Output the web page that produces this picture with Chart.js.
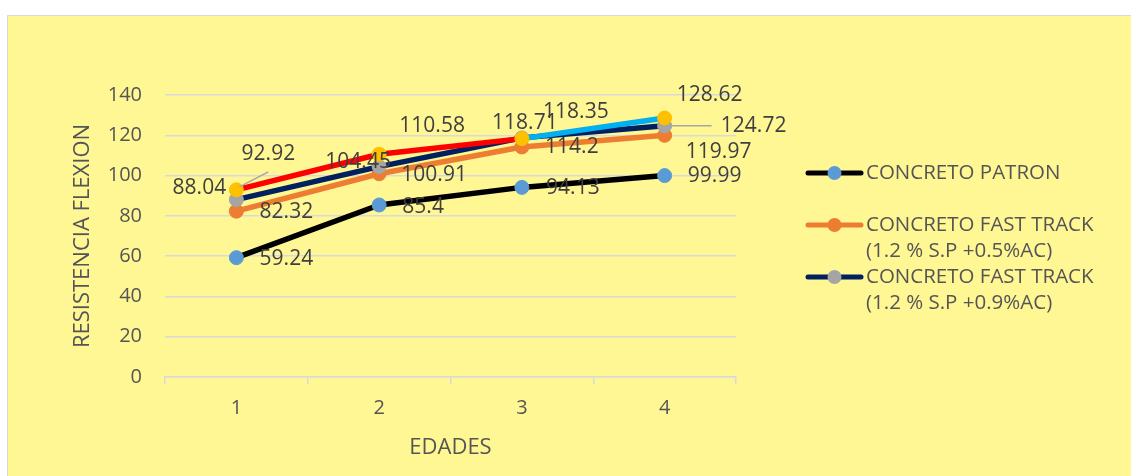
<!DOCTYPE html>
<html lang="es">
<head>
<meta charset="utf-8">
<title>Resistencia a flexión por edades</title>
<script src="https://cdn.jsdelivr.net/npm/chart.js@4.4.1/dist/chart.umd.min.js"></script>
<style>
  html, body { margin: 0; padding: 0; background: #ffffff; }
  #contenedor { width: 1131px; height: 476px; }
</style>
</head>
<body>
<div id="contenedor"><canvas id="graficoFlexion" width="1131" height="476"></canvas></div>
<script>
// ==============================================================
// 1. DATOS DEL GRÁFICO
// ==============================================================
const edades = ['1', '2', '3', '4'];
const concretoPatron = [59.24, 85.4, 94.13, 99.99];
const fastTrack05 = [82.32, 100.91, 114.2, 119.97];
const fastTrack09 = [88.04, 104.45, 118.71, 124.72];
const serieSinLeyenda = [92.92, 110.58, 118.35, 128.62];
const ticksResistencia = [0, 20, 40, 60, 80, 100, 120, 140];

const nombrePatron = ['CONCRETO PATRON'];
const nombreFT05 = ['CONCRETO FAST TRACK', '(1.2 % S.P +0.5%AC)'];
const nombreFT09 = ['CONCRETO FAST TRACK', '(1.2 % S.P +0.9%AC)'];

// Donde va cada etiqueta respecto a su punto (dx, dy en px), por serie
const desplazamientoEtiquetas = [
  [[50, 1], [44, 2], [51, 1], [50, 0]],
  [[50, 1], [55, 1], [50, 0], [54, 17]],
  [[-37, -12], [-21, -5], [3, -15], [89, 0]],
  [[32, -36], [53, -28], [54, -27], [45, -23]]
];
// Líneas guía grises de algunas etiquetas: [serie, punto, desde, hasta]
const lineasGuia = [
  [3, 0, [3, -3], [32, -18]],
  [2, 3, [7, 0], [47, 0]]
];

const GRIS_TEXTO = '#555555';
const GRIS_ETIQUETA = '#3F3F3F';
const GRIS_REJILLA = '#D9D9D9';

Chart.defaults.font.family = '"Open Sans", "DejaVu Sans", sans-serif';

// ==============================================================
// 2. PLUGINS: FONDO, ETIQUETAS Y LEYENDA
// ==============================================================
const pluginFondo = {
  id: 'fondo',
  beforeDraw(chart) {
    const ctx = chart.ctx;
    ctx.save();
    ctx.fillStyle = '#ffffff';
    ctx.fillRect(0, 0, chart.width, chart.height);
    ctx.fillStyle = '#FFF694';
    ctx.fillRect(7, 15, chart.width - 7, chart.height - 15);
    ctx.strokeStyle = GRIS_REJILLA;
    ctx.lineWidth = 1;
    ctx.beginPath();
    ctx.moveTo(7.5, chart.height);
    ctx.lineTo(7.5, 15.5);
    ctx.lineTo(chart.width, 15.5);
    ctx.stroke();
    ctx.restore();
  }
};

const pluginEtiquetas = {
  id: 'etiquetas',
  afterDatasetsDraw(chart) {
    const ctx = chart.ctx;
    ctx.save();
    // primero las líneas guía
    ctx.strokeStyle = '#A6A6A6';
    ctx.lineWidth = 1.5;
    lineasGuia.forEach(([s, i, desde, hasta]) => {
      const p = chart.getDatasetMeta(s).data[i];
      ctx.beginPath();
      ctx.moveTo(p.x + desde[0], p.y + desde[1]);
      ctx.lineTo(p.x + hasta[0], p.y + hasta[1]);
      ctx.stroke();
    });
    ctx.font = '21px "Open Sans", sans-serif';
    ctx.fillStyle = GRIS_ETIQUETA;
    ctx.textAlign = 'center';
    ctx.textBaseline = 'middle';
    chart.data.datasets.forEach((ds, s) => {
      chart.getDatasetMeta(s).data.forEach((p, i) => {
        const [dx, dy] = desplazamientoEtiquetas[s][i];
        ctx.fillText(String(ds.data[i]), p.x + dx, p.y + dy);
      });
    });
    ctx.restore();
  }
};

const pluginLeyenda = {
  id: 'leyendaPropia',
  afterDraw(chart) {
    const ctx = chart.ctx;
    const filasY = [173, 225, 277];
    ctx.save();
    ctx.font = '20.5px "Open Sans", sans-serif';
    ctx.textAlign = 'left';
    ctx.textBaseline = 'middle';
    chart.data.datasets.filter(ds => !ds.sinLeyenda).forEach((ds, k) => {
      const y = filasY[k];
      ctx.strokeStyle = ds.borderColor;
      ctx.lineWidth = 5;
      ctx.lineCap = 'round';
      ctx.beginPath();
      ctx.moveTo(808, y);
      ctx.lineTo(861, y);
      ctx.stroke();
      ctx.fillStyle = ds.pointBackgroundColor;
      ctx.beginPath();
      ctx.arc(834.5, y, 7, 0, Math.PI * 2);
      ctx.fill();
      ctx.fillStyle = GRIS_TEXTO;
      ds.nombre.forEach((linea, j) => ctx.fillText(linea, 866, y + j * 26.5));
    });
    ctx.restore();
  }
};

// ==============================================================
// 3. GRÁFICO
// ==============================================================
function serie(nombre, datos, linea, marcador, orden) {
  return {
    label: nombre.join(' '),
    nombre: nombre,
    data: datos,
    borderColor: linea,
    backgroundColor: marcador,
    pointBackgroundColor: marcador,
    pointBorderColor: marcador,
    pointBorderWidth: 1,
    pointRadius: 7,
    borderWidth: 5.5,
    borderCapStyle: 'round',
    borderJoinStyle: 'round',
    tension: 0,
    order: orden
  };
}

const extra = serie([''], serieSinLeyenda, '#FF0000', '#FFC000', 0);
extra.sinLeyenda = true;
extra.segment = { borderColor: c => (c.p0DataIndex >= 2 ? '#00B0F0' : '#FF0000') };

new Chart(document.getElementById('graficoFlexion'), {
  type: 'line',
  data: {
    labels: edades,
    datasets: [
      serie(nombrePatron, concretoPatron, '#000000', '#5B9BD5', 3),
      serie(nombreFT05, fastTrack05, '#ED7D31', '#ED7D31', 2),
      serie(nombreFT09, fastTrack09, '#002060', '#A5A5A5', 1),
      extra
    ]
  },
  options: {
    responsive: false,
    animation: false,
    devicePixelRatio: 1,
    layout: { padding: { top: 95, right: 395, bottom: 0, left: 0 } },
    plugins: {
      legend: { display: false },
      tooltip: { enabled: false }
    },
    scales: {
      x: {
        offset: true,
        grid: { offset: true, drawOnChartArea: false, drawTicks: true, tickLength: 7, color: GRIS_REJILLA, lineWidth: 1.5 },
        border: { color: GRIS_REJILLA, width: 1.5 },
        ticks: { color: GRIS_TEXTO, font: { size: 20 }, padding: 12 },
        title: { display: true, text: 'EDADES', color: GRIS_TEXTO, font: { size: 22 }, padding: { top: 0, bottom: 15 } },
        afterFit: s => { s.height = 99; }
      },
      y: {
        min: 0,
        max: 140,
        afterBuildTicks: s => { s.ticks = ticksResistencia.map(v => ({ value: v })); },
        grid: { color: GRIS_REJILLA, lineWidth: 1.5, drawTicks: false },
        border: { display: false },
        ticks: { color: GRIS_TEXTO, font: { size: 20 }, padding: 23 },
        title: { display: true, text: 'RESISTENCIA FLEXION', color: GRIS_TEXTO, font: { size: 22 }, padding: { top: 70, bottom: 0 } },
        afterFit: s => { s.width = 165; }
      }
    }
  },
  plugins: [pluginFondo, pluginEtiquetas, pluginLeyenda]
});
</script>
</body>
</html>
